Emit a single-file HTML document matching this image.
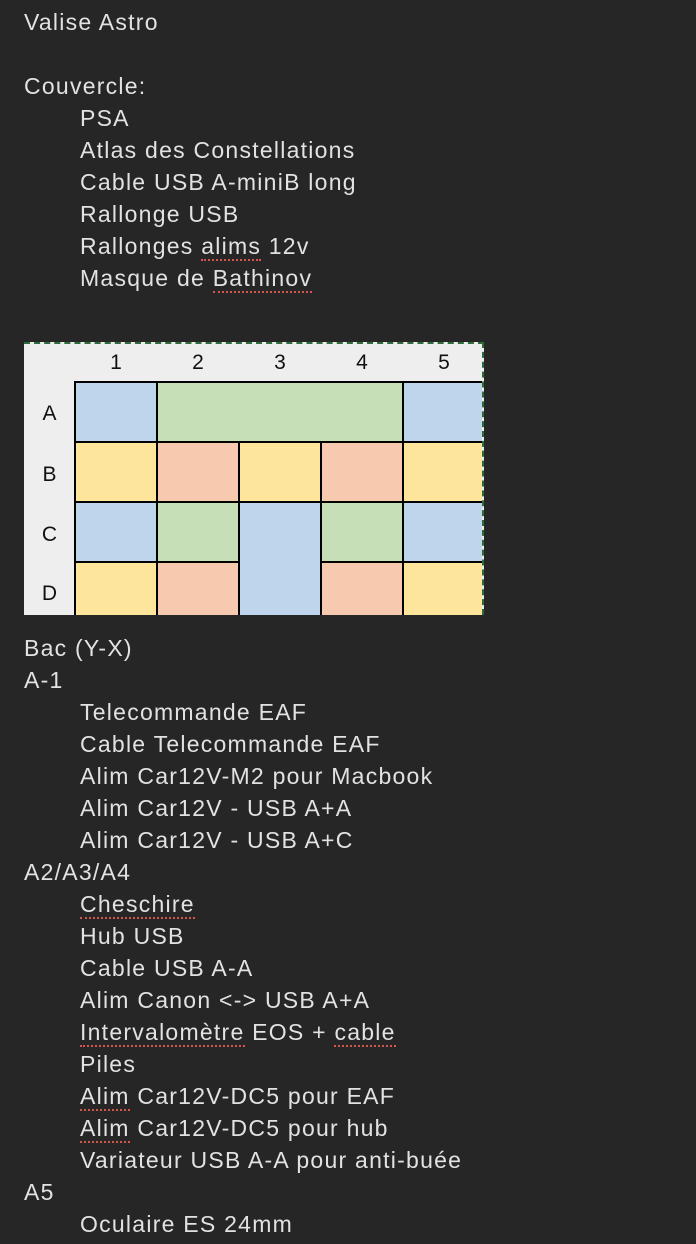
<!DOCTYPE html>
<html><head><meta charset="utf-8"><style>
html,body{margin:0;padding:0;background:#262626;width:696px;height:1244px;overflow:hidden}
body{font-family:"Liberation Sans",sans-serif;font-size:23px;color:#e2e2e2;position:relative}
.l{position:absolute;left:24px;height:32px;line-height:32px;white-space:nowrap;letter-spacing:1.25px}
.i{left:80px}
.u{border-bottom:2px dotted #d9534f;padding-bottom:0}
#t{position:absolute;left:24px;top:342px;width:460px;height:273px;background:#eeeeee;border-top:2px dashed #2e6b3a;border-right:2px dashed #2e6b3a;box-sizing:border-box;overflow:hidden}
.c{position:absolute;box-sizing:border-box;border:2.5px solid #000}
.h{position:absolute;font-size:21px;color:#111;text-align:center}
</style></head><body>
<div class="l" style="top:6px">Valise Astro</div>
<div class="l" style="top:70px">Couvercle:</div>
<div class="l i" style="top:102px">PSA</div>
<div class="l i" style="top:134px">Atlas des Constellations</div>
<div class="l i" style="top:166px">Cable USB A-miniB long</div>
<div class="l i" style="top:198px">Rallonge USB</div>
<div class="l i" style="top:230px">Rallonges <span class="u">alims</span> 12v</div>
<div class="l i" style="top:262px">Masque de <span class="u">Bathinov</span></div>

<div id="t">
<div class="h" style="left:51px;width:82px;top:7px">1</div>
<div class="h" style="left:133px;width:82px;top:7px">2</div>
<div class="h" style="left:215px;width:82px;top:7px">3</div>
<div class="h" style="left:297px;width:82px;top:7px">4</div>
<div class="h" style="left:379px;width:82px;top:7px">5</div>
<div class="h" style="left:0;width:51px;top:58px">A</div>
<div class="h" style="left:0;width:51px;top:119px">B</div>
<div class="h" style="left:0;width:51px;top:179px">C</div>
<div class="h" style="left:0;width:51px;top:238px">D</div>
<div class="c" style="left:50px;top:37px;width:84px;height:62px;background:#bfd5eb"></div>
<div class="c" style="left:132px;top:37px;width:248px;height:62px;background:#c7dfb7"></div>
<div class="c" style="left:378px;top:37px;width:90px;height:62px;background:#bfd5eb"></div>
<div class="c" style="left:50px;top:97px;width:84px;height:62px;background:#fde59b"></div>
<div class="c" style="left:132px;top:97px;width:84px;height:62px;background:#f7cab0"></div>
<div class="c" style="left:214px;top:97px;width:84px;height:62px;background:#fde59b"></div>
<div class="c" style="left:296px;top:97px;width:84px;height:62px;background:#f7cab0"></div>
<div class="c" style="left:378px;top:97px;width:90px;height:62px;background:#fde59b"></div>
<div class="c" style="left:50px;top:157px;width:84px;height:62px;background:#bfd5eb"></div>
<div class="c" style="left:132px;top:157px;width:84px;height:62px;background:#c7dfb7"></div>
<div class="c" style="left:214px;top:157px;width:84px;height:130px;background:#bfd5eb"></div>
<div class="c" style="left:296px;top:157px;width:84px;height:62px;background:#c7dfb7"></div>
<div class="c" style="left:378px;top:157px;width:90px;height:62px;background:#bfd5eb"></div>
<div class="c" style="left:50px;top:217px;width:84px;height:70px;background:#fde59b"></div>
<div class="c" style="left:132px;top:217px;width:84px;height:70px;background:#f7cab0"></div>
<div class="c" style="left:296px;top:217px;width:84px;height:70px;background:#f7cab0"></div>
<div class="c" style="left:378px;top:217px;width:90px;height:70px;background:#fde59b"></div>
</div>

<div class="l" style="top:632px">Bac (Y-X)</div>
<div class="l" style="top:664px">A-1</div>
<div class="l i" style="top:696px">Telecommande EAF</div>
<div class="l i" style="top:728px">Cable Telecommande EAF</div>
<div class="l i" style="top:760px">Alim Car12V-M2 pour Macbook</div>
<div class="l i" style="top:792px">Alim Car12V - USB A+A</div>
<div class="l i" style="top:824px">Alim Car12V - USB A+C</div>
<div class="l" style="top:856px">A2/A3/A4</div>
<div class="l i" style="top:888px"><span class="u">Cheschire</span></div>
<div class="l i" style="top:920px">Hub USB</div>
<div class="l i" style="top:952px">Cable USB A-A</div>
<div class="l i" style="top:984px">Alim Canon &lt;-&gt; USB A+A</div>
<div class="l i" style="top:1016px"><span class="u">Intervalomètre</span> EOS + <span class="u">cable</span></div>
<div class="l i" style="top:1048px">Piles</div>
<div class="l i" style="top:1080px"><span class="u">Alim</span> Car12V-DC5 pour EAF</div>
<div class="l i" style="top:1112px"><span class="u">Alim</span> Car12V-DC5 pour hub</div>
<div class="l i" style="top:1144px">Variateur USB A-A pour anti-buée</div>
<div class="l" style="top:1176px">A5</div>
<div class="l i" style="top:1208px">Oculaire ES 24mm</div>
</body></html>
